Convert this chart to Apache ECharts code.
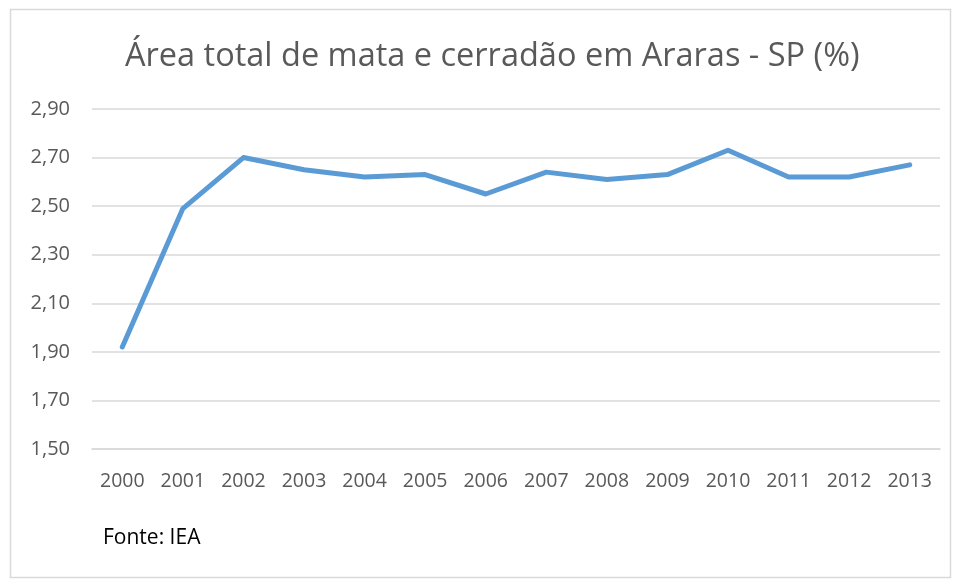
<!DOCTYPE html>
<html>
<head>
<meta charset="utf-8">
<script src="https://cdn.jsdelivr.net/npm/echarts@6/dist/echarts.min.js"></script>
<style>
  html, body { margin: 0; padding: 0; background: #fff; }
  #chart { width: 957px; height: 583px; }
</style>
</head>
<body>
<div id="chart"></div>
<script>
// dados
var anos = ['2000', '2001', '2002', '2003', '2004', '2005', '2006',
  '2007', '2008', '2009', '2010', '2011', '2012', '2013'];
var areaPct = [1.92, 2.49, 2.70, 2.65, 2.62, 2.63, 2.55,
  2.64, 2.61, 2.63, 2.73, 2.62, 2.62, 2.67];
var tituloTexto = 'Área total de mata e cerradão em Araras - SP (%)';
var fonteTexto = 'Fonte: IEA';

var fam = '"Open Sans", "Noto Sans", sans-serif';
var chart = echarts.init(document.getElementById('chart'));

chart.setOption({
  animation: false,
  backgroundColor: '#fff',
  title: {
    text: tituloTexto,
    left: 120,
    top: 35,
    textStyle: { fontFamily: fam, fontSize: 32.5, fontWeight: 'normal', color: '#595959' }
  },
  graphic: [
    {
      type: 'rect',
      shape: { x: 10.5, y: 9.5, width: 940, height: 568 },
      style: { fill: 'none', stroke: '#d9d9d9', lineWidth: 1.5 },
      silent: true
    },
    {
      type: 'text',
      left: 103,
      top: 528,
      style: { text: fonteTexto, fontFamily: fam, fontSize: 21, fill: '#000' }
    }
  ],
  grid: { left: 92, right: 17, top: 109, bottom: 134 },
  xAxis: {
    type: 'category',
    data: anos,
    boundaryGap: true,
    axisLine: { show: true, lineStyle: { color: '#d9d9d9', width: 1.5 } },
    axisTick: { show: false },
    axisLabel: { fontFamily: fam, fontSize: 19.5, color: '#595959', margin: 22 }
  },
  yAxis: {
    type: 'value',
    min: 1.5,
    max: 2.9,
    interval: 0.2,
    axisLine: { show: false },
    axisTick: { show: false },
    splitLine: { lineStyle: { color: '#d9d9d9', width: 1.5 } },
    axisLabel: {
      fontFamily: fam, fontSize: 20, color: '#595959', margin: 22,
      formatter: function (v) { return v.toFixed(2).replace('.', ','); }
    }
  },
  series: [{
    type: 'line',
    data: areaPct,
    showSymbol: false,
    lineStyle: { color: '#5b9bd5', width: 5, cap: 'round', join: 'round' }
  }]
});
</script>
</body>
</html>
